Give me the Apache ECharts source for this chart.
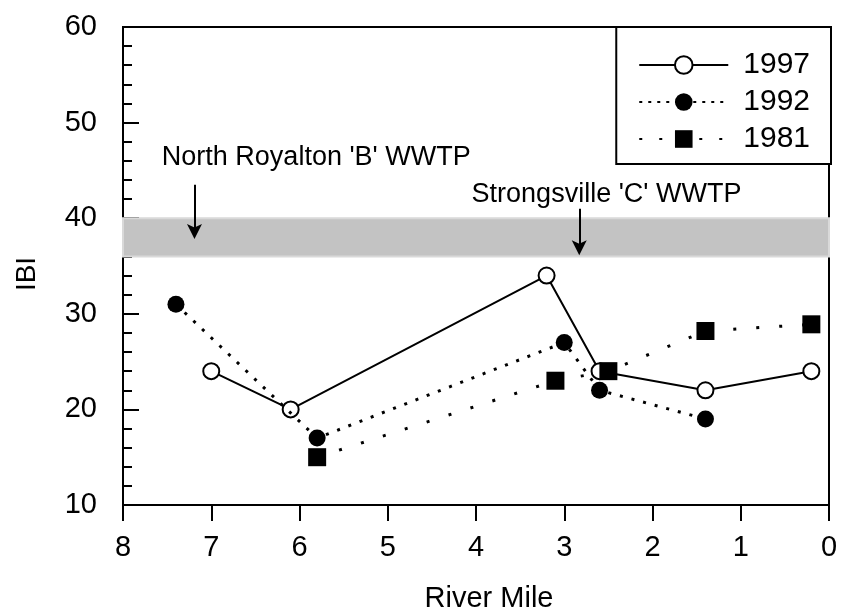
<!DOCTYPE html>
<html>
<head>
<meta charset="utf-8">
<title>IBI by River Mile</title>
<script src="https://cdn.jsdelivr.net/npm/echarts@6/dist/echarts.min.js"></script>
<style>
  html, body { margin: 0; padding: 0; background: #fff; }
  #chart { width: 843px; height: 608px; }
</style>
</head>
<body>
<div id="chart"></div>
<script>
// Index of Biotic Integrity along the river, three survey years
const riverMile1997 = [7.0, 6.1, 3.2, 2.6, 1.4, 0.2];
const ibi1997       = [24, 20, 34, 24, 22, 24];
const riverMile1992 = [7.4, 5.8, 3.0, 2.6, 1.4];
const ibi1992       = [31, 17, 27, 22, 19];
const riverMile1981 = [5.8, 3.1, 2.5, 1.4, 0.2];
const ibi1981       = [15, 23, 24, 28.2, 28.9];
const yearNames     = ['1997', '1992', '1981'];

// axis ranges
const mileRange = [0, 8];
const ibiRange  = [10, 60];

// criterion band (IBI)
const criterionBand = [36, 40];

// outfall annotations: label, label anchor [mile, IBI], arrow mile, arrow IBI from/to
const outfallNames   = ["North Royalton 'B' WWTP", "Strongsville 'C' WWTP"];
const outfallLabelAt = [[7.56, 46.3], [4.05, 42.5]];
const outfallMile    = [7.19, 2.83];
const outfallArrowY  = [[43.5, 38.6], [41.0, 36.9]];

const pairs = (xs, ys) => xs.map((x, i) => [x, ys[i]]);
const FONT = "'Liberation Sans', Arial, sans-serif";

// arrow head pointing up (rotated along the line by the library)
const ARROW_HEAD = 'path://M6,0 L12,13 L6,10 L0,13 Z';

const chart = echarts.init(document.getElementById('chart'), null, { renderer: 'canvas' });

const dot1992 = [3, 9];
const dot1981 = [3, 20];

const option = {
  animation: false,
  backgroundColor: '#fff',
  textStyle: { fontFamily: FONT, color: '#000' },
  grid: {
    left: 123, right: 14, top: 27, bottom: 103,
    containLabel: false, outerBoundsMode: 'none',
    show: true, borderColor: '#000', borderWidth: 2, backgroundColor: 'transparent'
  },
  legend: {
    data: [
      { name: yearNames[0] },
      { name: yearNames[1], lineStyle: { type: [3, 6] } },
      { name: yearNames[2], lineStyle: { type: [3, 17] } }
    ],
    orient: 'vertical',
    right: 12, top: 27,
    itemWidth: 89, itemHeight: 22, itemGap: 7,
    padding: [23, 21, 10, 22],
    borderColor: '#000', borderWidth: 2, backgroundColor: '#fff',
    textStyle: { fontFamily: FONT, fontSize: 30, color: '#000', padding: [0, 0, 0, 10] },
    selectedMode: false
  },
  xAxis: {
    type: 'value', inverse: true,
    min: mileRange[0], max: mileRange[1], interval: 1,
    name: 'River Mile', nameLocation: 'middle', nameGap: 79,
    nameTextStyle: { fontFamily: FONT, fontSize: 29, color: '#000', padding: [0, 0, 0, 26] },
    axisLine: { show: true, onZero: false, lineStyle: { color: '#000', width: 2 } },
    axisTick: { show: true, inside: false, length: 16, lineStyle: { color: '#000', width: 2 } },
    axisLabel: { fontFamily: FONT, fontSize: 29, color: '#000', margin: 28 },
    splitLine: { show: false }
  },
  yAxis: {
    type: 'value',
    min: ibiRange[0], max: ibiRange[1], interval: 10,
    name: 'IBI', nameLocation: 'middle', nameGap: 82,
    nameTextStyle: { fontFamily: FONT, fontSize: 28, color: '#000', padding: [0, 16, 0, 0] },
    axisLine: { show: true, onZero: false, lineStyle: { color: '#000', width: 2 } },
    axisTick: { show: true, inside: true, length: 16, lineStyle: { color: '#000', width: 2 } },
    minorTick: { show: true, splitNumber: 5, length: 9, lineStyle: { color: '#000', width: 2 } },
    axisLabel: { fontFamily: FONT, fontSize: 29, color: '#000', margin: 26 },
    splitLine: { show: false }
  },
  series: [
    {
      name: 'band', type: 'scatter', data: [], z: 1, silent: true,
      markArea: {
        silent: true,
        itemStyle: { color: '#c3c3c3', borderColor: '#d9d9d9', borderWidth: 2 },
        data: [[{ yAxis: criterionBand[0] }, { yAxis: criterionBand[1] }]]
      }
    },
    {
      name: 'outfalls', type: 'scatter', data: [], z: 2, silent: true,
      markLine: {
        silent: true, animation: false,
        symbol: ['none', ARROW_HEAD], symbolSize: 15,
        lineStyle: { color: '#000', width: 2, type: 'solid' },
        itemStyle: { color: '#000' },
        label: { show: false },
        emphasis: { disabled: true },
        data: outfallMile.map((m, i) => [
          { coord: [m, outfallArrowY[i][0]] },
          { coord: [m, outfallArrowY[i][1]] }
        ])
      },
      markPoint: {
        silent: true, symbol: 'rect', symbolSize: 0,
        label: {
          show: true, position: 'right', distance: 0,
          fontFamily: FONT, fontSize: 27, color: '#000',
          formatter: p => p.name
        },
        data: outfallNames.map((n, i) => ({ name: n, coord: outfallLabelAt[i] }))
      }
    },
    {
      name: yearNames[0], type: 'line', z: 3,
      data: pairs(riverMile1997, ibi1997),
      symbol: 'circle', symbolSize: 16,
      itemStyle: { color: '#fff', borderColor: '#000', borderWidth: 2 },
      lineStyle: { color: '#000', width: 2, type: 'solid' },
      emphasis: { disabled: true }
    },
    {
      name: yearNames[1], type: 'line', z: 4,
      data: pairs(riverMile1992, ibi1992),
      symbol: 'circle', symbolSize: 17,
      itemStyle: { color: '#000', borderWidth: 0 },
      lineStyle: { color: '#000', width: 3, type: dot1992 },
      emphasis: { disabled: true }
    },
    {
      name: yearNames[2], type: 'line', z: 5,
      data: pairs(riverMile1981, ibi1981),
      symbol: 'rect', symbolSize: 18,
      itemStyle: { color: '#000', borderWidth: 0 },
      lineStyle: { color: '#000', width: 3, type: dot1981 },
      emphasis: { disabled: true }
    }
  ]
};

chart.setOption(option);
</script>
</body>
</html>
